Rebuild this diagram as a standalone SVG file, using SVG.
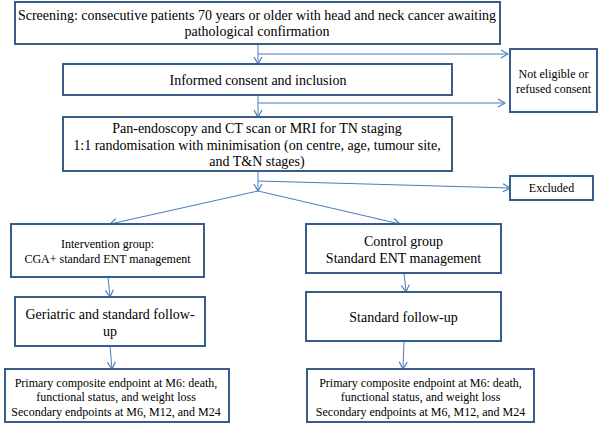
<svg xmlns="http://www.w3.org/2000/svg" width="600" height="424" viewBox="0 0 600 424">
<defs>
<style>
.box{fill:#fff;stroke:#385D8A;stroke-width:2}
.t{font-size:14px;fill:#000;text-anchor:middle}
.s{font-size:12px}
.c{fill:none;stroke:#4A7EBB;stroke-width:1}
</style>
<marker id="ah" viewBox="0 0 10 10" refX="9" refY="5" markerWidth="10" markerHeight="10" markerUnits="userSpaceOnUse" orient="auto">
<path d="M2,1 L9,5 L2,9" fill="none" stroke="#4A7EBB" stroke-width="1.2"/>
</marker>
</defs>
<rect width="600" height="424" fill="#fff"/>
<g id="connectors">
<line class="c" x1="258" y1="44" x2="258" y2="64" marker-end="url(#ah)"/>
<line class="c" x1="258" y1="54" x2="508" y2="54" marker-end="url(#ah)"/>
<line class="c" x1="258" y1="95" x2="258" y2="117" marker-end="url(#ah)"/>
<line class="c" x1="258" y1="103" x2="505" y2="103" marker-end="url(#ah)"/>
<line class="c" x1="258" y1="171" x2="258" y2="191" marker-end="url(#ah)"/>
<line class="c" x1="258" y1="181" x2="510" y2="188" marker-end="url(#ah)"/>
<line class="c" x1="258" y1="191" x2="110" y2="224" marker-end="url(#ah)"/>
<line class="c" x1="258" y1="191" x2="400" y2="224" marker-end="url(#ah)"/>
<line class="c" x1="108" y1="277" x2="110" y2="297" marker-end="url(#ah)"/>
<line class="c" x1="404" y1="273" x2="406" y2="292" marker-end="url(#ah)"/>
<line class="c" x1="110" y1="346" x2="112" y2="369" marker-end="url(#ah)"/>
<line class="c" x1="404" y1="341" x2="403" y2="369" marker-end="url(#ah)"/>
</g>
<g font-family="'Liberation Serif', 'DejaVu Serif', serif">
<g id="screening">
<rect class="box" x="15" y="2" width="485" height="42"/>
<text class="t" x="257" y="20">Screening: consecutive patients 70 years or older with head and neck cancer awaiting</text>
<text class="t" x="257" y="36">pathological confirmation</text>
</g>
<g id="consent">
<rect class="box" x="63" y="64" width="389" height="31"/>
<text class="t" x="258" y="85">Informed consent and inclusion</text>
</g>
<g id="noteligible">
<rect class="box" x="510" y="49" width="87" height="63"/>
<text class="t s" x="553.5" y="78">Not eligible or</text>
<text class="t s" x="553.5" y="93">refused consent</text>
</g>
<g id="staging">
<rect class="box" x="63" y="117" width="389" height="54"/>
<text class="t" x="257" y="133">Pan-endoscopy and CT scan or MRI for TN staging</text>
<text class="t" x="257" y="150">1:1 randomisation with minimisation (on centre, age, tumour site,</text>
<text class="t" x="257" y="166">and T&amp;N stages)</text>
</g>
<g id="excluded">
<rect class="box" x="510" y="176" width="83" height="24"/>
<text class="t s" x="551.5" y="192">Excluded</text>
</g>
<g id="intervention">
<rect class="box" x="11" y="224" width="193" height="53"/>
<text class="t s" x="107.5" y="248">Intervention group:</text>
<text class="t s" x="107.5" y="263">CGA+ standard ENT management</text>
</g>
<g id="control">
<rect class="box" x="306" y="224" width="195" height="49"/>
<text class="t" x="403.5" y="246">Control group</text>
<text class="t" x="403.5" y="263">Standard ENT management</text>
</g>
<g id="geriatric">
<rect class="box" x="15" y="297" width="190" height="49"/>
<text class="t" x="110" y="319">Geriatric and standard follow-</text>
<text class="t" x="110" y="336">up</text>
</g>
<g id="stdfollow">
<rect class="box" x="306" y="292" width="195" height="49"/>
<text class="t" x="403.5" y="322">Standard follow-up</text>
</g>
<g id="endpoint-left">
<rect class="box" x="5" y="369" width="224" height="53"/>
<text class="t s" x="116" y="387">Primary composite endpoint at M6: death,</text>
<text class="t s" x="116" y="401">functional status, and weight loss</text>
<text class="t s" x="116" y="416">Secondary endpoints at M6, M12, and M24</text>
</g>
<g id="endpoint-right">
<rect class="box" x="307" y="369" width="227" height="53"/>
<text class="t s" x="420.5" y="387">Primary composite endpoint at M6: death,</text>
<text class="t s" x="420.5" y="401">functional status, and weight loss</text>
<text class="t s" x="420.5" y="416">Secondary endpoints at M6, M12, and M24</text>
</g>
</g>
</svg>
